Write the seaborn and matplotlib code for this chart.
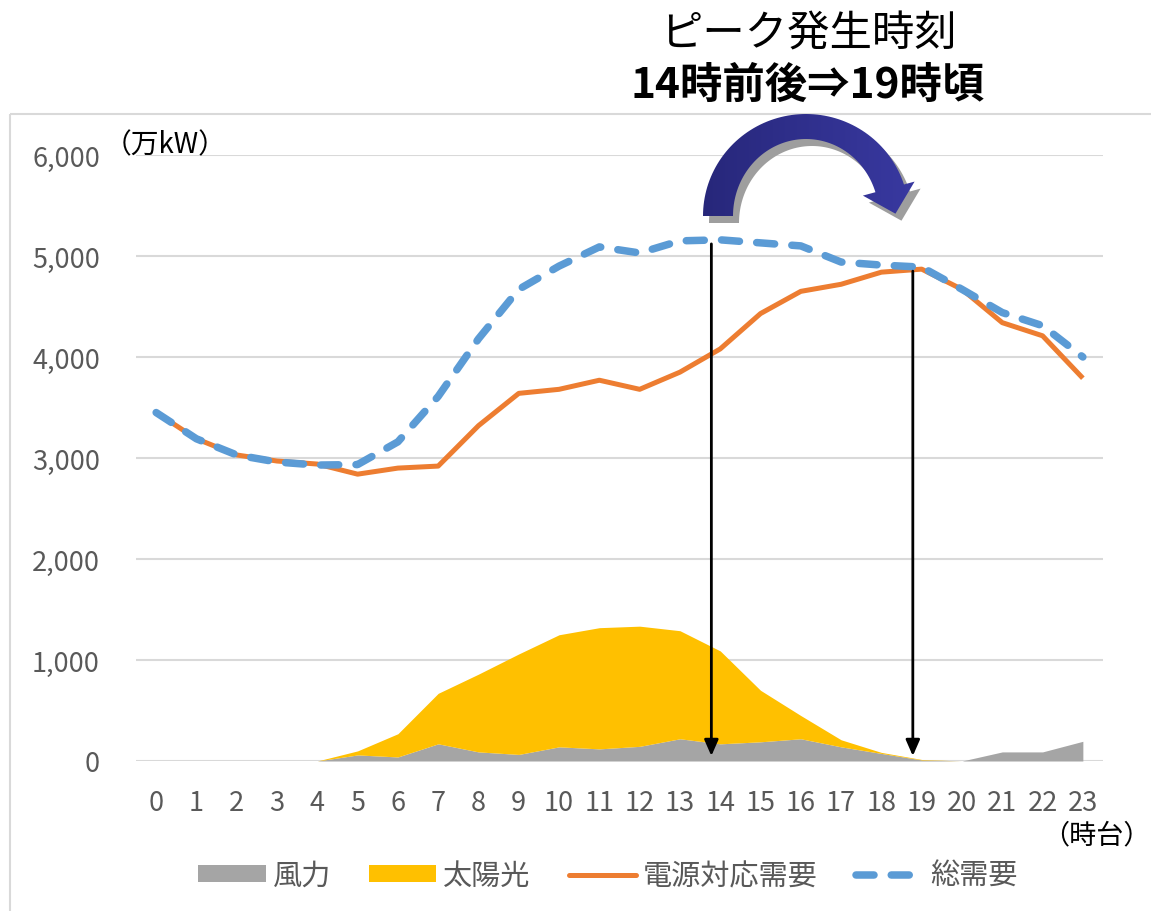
import numpy as np
import pandas as pd
import matplotlib
matplotlib.use("Agg")
import matplotlib.pyplot as plt
import seaborn as sns
from matplotlib.patches import Patch, Polygon, Rectangle
from matplotlib.lines import Line2D

# ---------------- data ----------------
hours = list(range(24))
wind = [0, 0, 0, 0, 0, 60, 40, 170, 90, 65, 140, 120, 145, 220, 170, 190,
        220, 140, 75, 10, 0, 90, 90, 195]
solar = [0, 0, 0, 0, 0, 40, 230, 500, 770, 995, 1110, 1200, 1190, 1070, 920, 510,
         230, 70, 10, 5, 0, 0, 0, 0]
supply_demand = [3450, 3190, 3030, 2970, 2940, 2840, 2900, 2920, 3320, 3640, 3680, 3770,
                 3680, 3850, 4080, 4430, 4650, 4720, 4840, 4870, 4670, 4340, 4210, 3790]
total_demand = [3450, 3190, 3030, 2960, 2930, 2935, 3160, 3610, 4180, 4670, 4900, 5090,
                5030, 5150, 5160, 5130, 5100, 4940, 4910, 4890, 4670, 4440, 4310, 4000]
peak_hours = [14, 19]
y_ticks = [0, 1000, 2000, 3000, 4000, 5000, 6000]
labels = ["風力", "太陽光", "電源対応需要", "総需要"]
title1 = "ピーク発生時刻"
title2 = "14時前後⇒19時頃"

df = pd.DataFrame({"hour": hours, "wind": wind, "solar": solar,
                   "supply": supply_demand, "total": total_demand})

# ---------------- style ----------------
sns.set_theme(style="white")
plt.rcParams["font.family"] = ["Noto Sans CJK JP", "DejaVu Sans"]

C_WIND = "#A5A5A5"
C_SOLAR = "#FFC000"
C_ORANGE = "#ED7D31"
C_BLUE = "#5B9BD5"
C_GRID = "#D9D9D9"
C_TEXT = "#595959"
DASH = (0, (2.4, 2.3))

W, H = 1151, 912
fig = plt.figure(figsize=(W / 100, H / 100), dpi=100)
ax = fig.add_axes([136 / W, 1 - 762 / H, (1103 - 136) / W, (762 - 156) / H])

# stacked areas
wind_arr = np.array(wind)
stack = wind_arr + np.array(solar)
ax.fill_between(df["hour"], 0, wind_arr, color=C_WIND, lw=0, zorder=2)
ax.fill_between(df["hour"], wind_arr, stack, color=C_SOLAR, lw=0, zorder=2)

# lines
sns.lineplot(data=df, x="hour", y="supply", ax=ax, color=C_ORANGE, lw=3.6, zorder=3)
sns.lineplot(data=df, x="hour", y="total", ax=ax, color=C_BLUE, lw=5.4, zorder=4)
bl = ax.lines[-1]
bl.set_linestyle(DASH)
bl.set_dash_capstyle("round")
ax.lines[-2].set_solid_capstyle("butt")

# vertical arrows at peak hours (drawn slightly left of the category centre, as in the source)
for h in peak_hours:
    ax.annotate("", xy=(h - 0.22, 50), xytext=(h - 0.22, total_demand[h] - 40),
                arrowprops=dict(arrowstyle="-|>,head_length=0.8,head_width=0.35",
                                color="black", lw=2, shrinkA=0, shrinkB=0),
                zorder=6)

ax.set_xlim(-0.5, 23.5)
ax.set_ylim(0, 6000)
ax.set_xticks(hours)
ax.set_xticklabels([str(h) for h in hours])
ax.set_yticks(y_ticks)
ax.set_yticklabels([f"{v:,}" for v in y_ticks])
ax.tick_params(axis="both", length=0, labelsize=19.5, labelcolor=C_TEXT)
ax.tick_params(axis="y", pad=26)
ax.tick_params(axis="x", pad=20)
ax.set_xlabel("")
ax.set_ylabel("")
ax.grid(axis="y", color=C_GRID, lw=1.5, zorder=0)
ax.grid(axis="x", visible=False)
for s in ax.spines.values():
    s.set_visible(False)
ax.set_facecolor("none")

# legend
handles = [Patch(facecolor=C_WIND, edgecolor="none"),
           Patch(facecolor=C_SOLAR, edgecolor="none"),
           Line2D([], [], color=C_ORANGE, lw=3.6, solid_capstyle="round"),
           Line2D([], [], color=C_BLUE, lw=5.4, linestyle=DASH, dash_capstyle="round")]
leg = fig.legend(handles, labels, loc="center", bbox_to_anchor=(608 / W, 1 - 877 / H),
                 ncol=4, frameon=False, fontsize=21, handlelength=2.3, handleheight=0.5,
                 handletextpad=0.25, columnspacing=1.3)
for t in leg.get_texts():
    t.set_color(C_TEXT)

# texts
fig.text(104 / W, 1 - 145 / H, "（万kW）", fontsize=20, color="black", ha="left", va="center")
fig.text(1151 / W, 1 - 836 / H, "（時台）", fontsize=19.5, color="black", ha="right", va="center")
fig.text(808 / W, 1 - 35 / H, title1, fontsize=30.5, color="black", ha="center", va="center")
fig.text(808 / W, 1 - 86 / H, title2, fontsize=30.5, color="black", ha="center", va="center",
         fontweight="bold")

# overlay (pixel coordinates) for frame and curved arrow
ov = fig.add_axes([0, 0, 1, 1])
ov.set_xlim(0, W)
ov.set_ylim(H, 0)
ov.axis("off")
ov.set_facecolor("none")
ov.add_patch(Rectangle((10, 115), 1160, 820, fill=False, edgecolor=C_GRID, lw=1.5))


def curved_arrow(dx=0, dy=0):
    cx, cy = 806, 217
    rxo, ryo = 103, 102
    rxi, ryi = 73, 77
    te = np.deg2rad(18)
    th = np.linspace(np.pi, te, 80)
    outer = np.c_[cx + rxo * np.cos(th), cy - ryo * np.sin(th)]
    inner = np.c_[cx + rxi * np.cos(th[::-1]), cy - ryi * np.sin(th[::-1])]
    O = outer[-1]
    I = inner[0]
    u = (O - I) / np.linalg.norm(O - I)
    mid = (O + I) / 2
    t = np.array([np.sin(te) * 0.7, np.cos(te)])
    t = t / np.linalg.norm(t)
    tip = mid + t * 26
    pts = np.vstack([outer, O + u * 11, tip, I - u * 13, inner])
    return pts + np.array([dx, dy])


ov.add_patch(Polygon(curved_arrow(6, 7), closed=True, facecolor="#9E9E9E", edgecolor="none"))
arrow = Polygon(curved_arrow(), closed=True, facecolor="none", edgecolor="none")
ov.add_patch(arrow)
grad = np.linspace(0, 1, 256).reshape(1, -1)
cmap = matplotlib.colors.LinearSegmentedColormap.from_list("g", ["#27277A", "#3A3AA3"])
im = ov.imshow(grad, cmap=cmap, extent=[700, 930, 240, 105], aspect="auto", zorder=5)
im.set_clip_path(arrow)
ov.set_xlim(0, W)
ov.set_ylim(H, 0)

fig.savefig("out.png", dpi=100)
